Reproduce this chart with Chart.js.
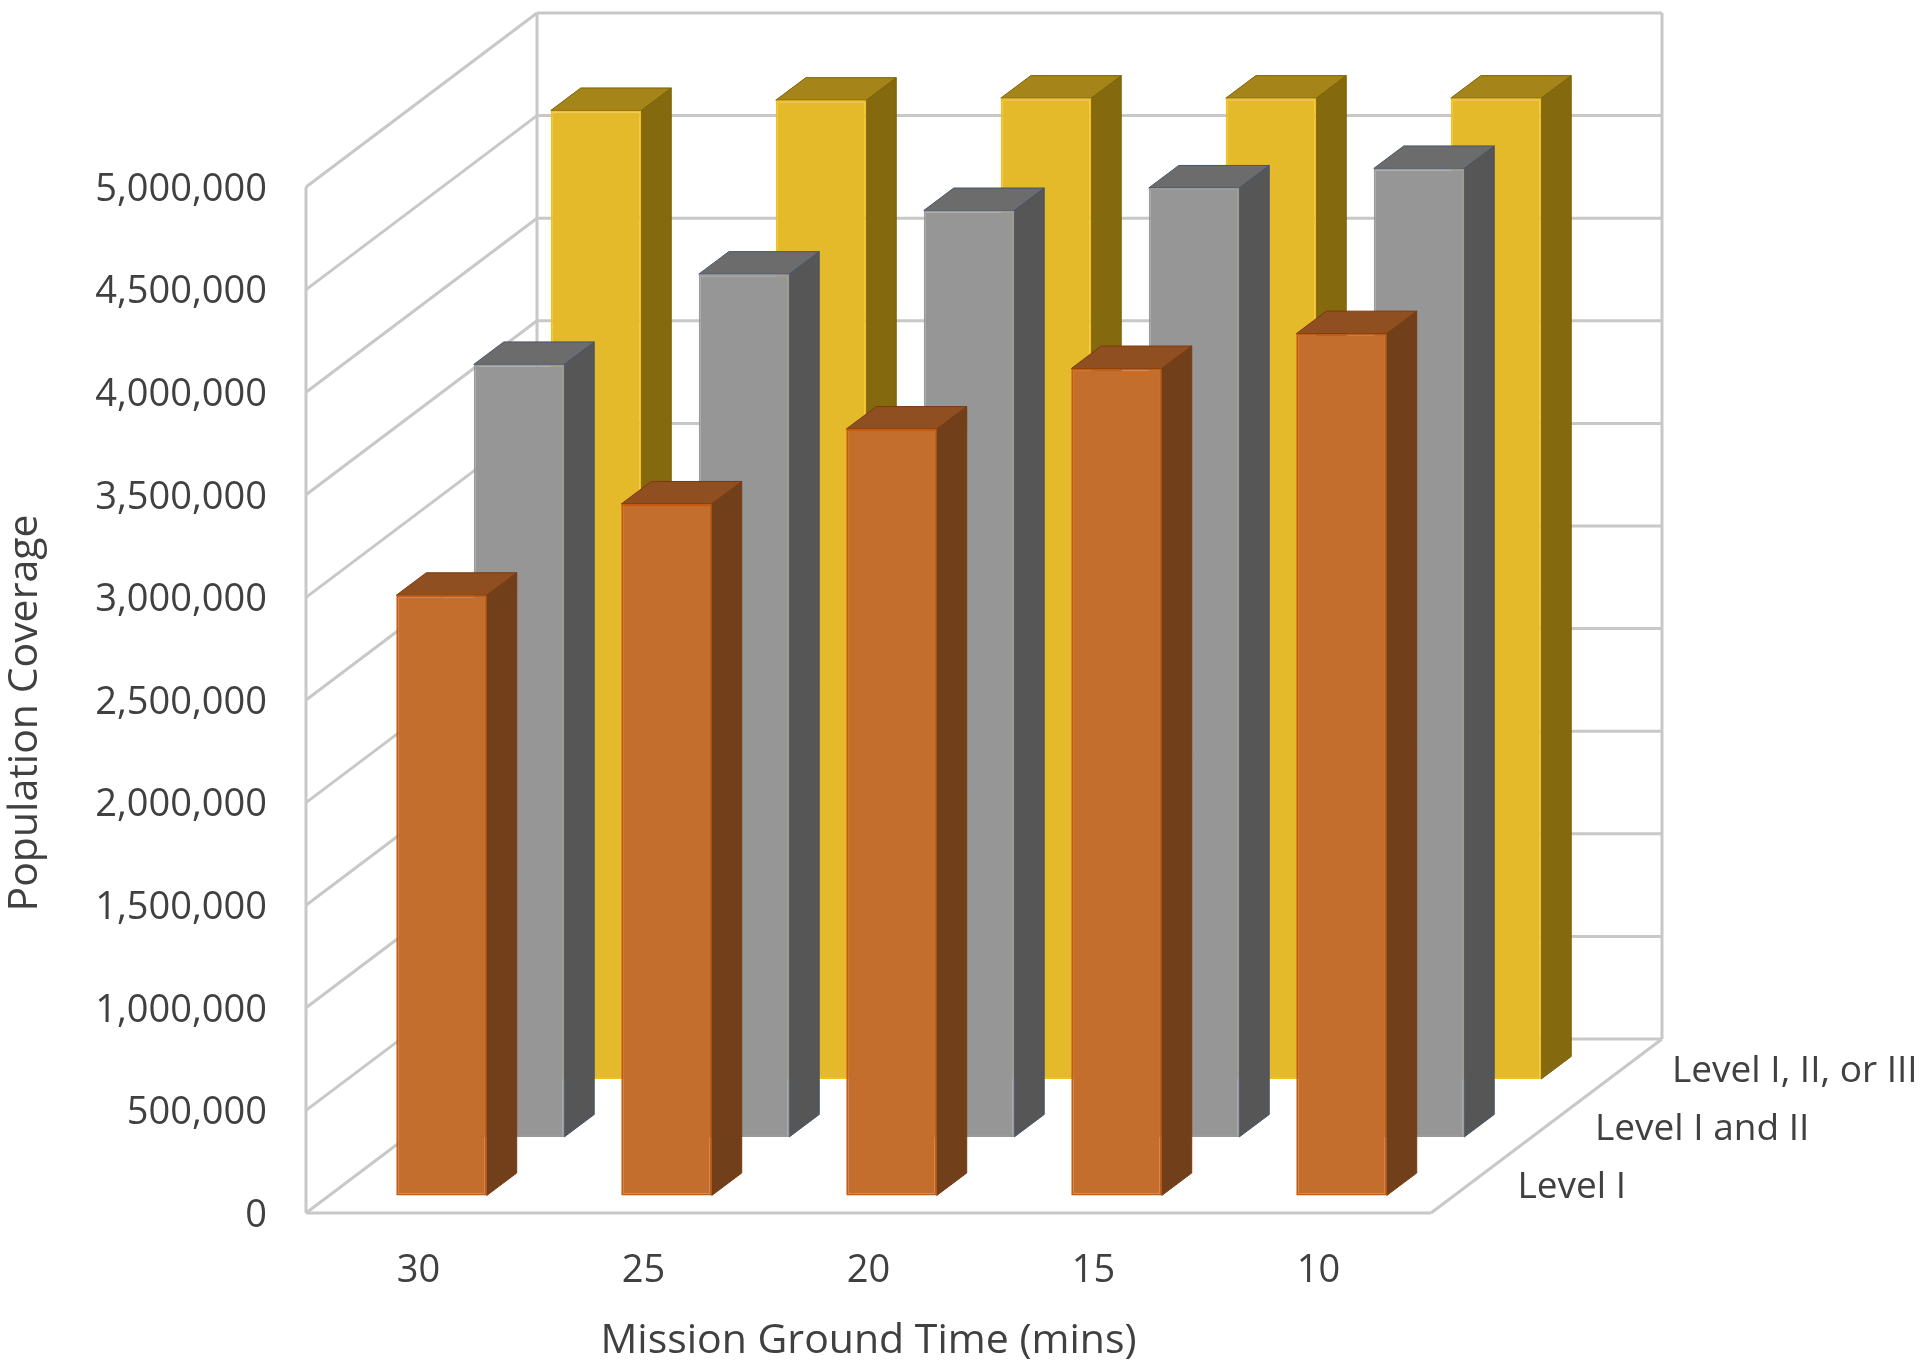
<!DOCTYPE html>
<html>
<head>
<meta charset="utf-8">
<title>Population Coverage</title>
<script src="https://cdn.jsdelivr.net/npm/chart.js@4"></script>
<style>
    html, body { margin: 0; padding: 0; background: #fff; }
    canvas { display: block; filter: blur(0.6px); }
</style>
</head>
<body>
<canvas id="coverageChart" width="1920" height="1366"></canvas>
<script>
// values
const categories = ['30', '25', '20', '15', '10'];
const levelOne = [2925000, 3370000, 3735000, 4030000, 4200000];
const levelTwo = [3765000, 4205000, 4515000, 4625000, 4720000];
const levelThree = [4720000, 4770000, 4780000, 4780000, 4780000];
const seriesNames = ['Level I', 'Level I and II', 'Level I, II, or III'];
const yStep = 500000;
const yMax = 5000000;
const yTitle = 'Population Coverage';
const xTitle = 'Mission Ground Time (mins)';

const textColor = '#404040';
const wallColor = '#c8c8c8';
const fontFamily = '"Open Sans", sans-serif';

// pseudo 3D: how far the back wall and each row of bars sit from the front of the box
const wallShift = { x: 231, y: -174 };
const rowShift = [
    { x: 23, y: -17.5 },
    { x: 100.5, y: -76 },
    { x: 177.5, y: -134 }
];
const barDepth = { x: 30, y: -22.5 };

const faceColors = ['#c46e2e', '#969696', '#e5ba2a'];
const edgeColors = ['#c55a11', '#9a9a9a', '#f2c01e'];
const sideColors = ['#71401b', '#565656', '#84690f'];
const topColors = ['#8f4f21', '#6c6c6c', '#a58519'];
const sideEdges = ['#7a3a0c', '#44546a', '#7a6000'];

function line(ctx, x1, y1, x2, y2) {
    ctx.beginPath();
    ctx.moveTo(x1, y1);
    ctx.lineTo(x2, y2);
    ctx.stroke();
}

function face(ctx, points, fill, stroke) {
    ctx.beginPath();
    points.forEach((p, i) => i ? ctx.lineTo(p[0], p[1]) : ctx.moveTo(p[0], p[1]));
    ctx.closePath();
    ctx.fillStyle = fill;
    ctx.fill();
    ctx.strokeStyle = stroke;
    ctx.lineWidth = 1;
    ctx.stroke();
}

const box3d = {
    id: 'box3d',
    // y tick labels sit a few px under their gridline in the original
    beforeDraw(chart) {
        chart.scales.y.getLabelItems().forEach(item => {
            item.options.translation[1] += 3;
        });
    },
    // walls and floor, gridlines come from the y scale ticks
    beforeDatasetsDraw(chart) {
        const { ctx, chartArea: area, scales } = chart;
        const { x: dx, y: dy } = wallShift;
        ctx.save();
        ctx.strokeStyle = wallColor;
        ctx.lineWidth = 3;
        scales.y.ticks.forEach(tick => {
            const y = scales.y.getPixelForValue(tick.value);
            line(ctx, area.left, y, area.left + dx, y + dy);
            line(ctx, area.left + dx, y + dy, area.right + dx, y + dy);
        });
        line(ctx, area.left, area.top, area.left, area.bottom);
        line(ctx, area.left + dx, area.top + dy, area.left + dx, area.bottom + dy);
        line(ctx, area.right + dx, area.top + dy, area.right + dx, area.bottom + dy);
        line(ctx, area.left, area.bottom, area.right, area.bottom);
        line(ctx, area.right, area.bottom, area.right + dx, area.bottom + dy);
        ctx.restore();
    },
    // shift the whole row back, then add side and top faces to each bar
    beforeDatasetDraw(chart, args) {
        const { ctx } = chart;
        const i = args.index;
        ctx.save();
        ctx.translate(rowShift[i].x, rowShift[i].y);
        args.meta.data.forEach(bar => {
            const left = bar.x - bar.width / 2;
            const right = bar.x + bar.width / 2;
            const { x: bx, y: by } = barDepth;
            face(ctx, [[right, bar.y], [right + bx, bar.y + by], [right + bx, bar.base + by], [right, bar.base]], sideColors[i], sideEdges[i]);
            face(ctx, [[left, bar.y], [left + bx, bar.y + by], [right + bx, bar.y + by], [right, bar.y]], topColors[i], sideEdges[i]);
        });
    },
    afterDatasetDraw(chart) {
        chart.ctx.restore();
    },
    afterDatasetsDraw(chart) {
        const { ctx, chartArea: area, scales } = chart;
        ctx.save();
        ctx.fillStyle = textColor;
        ctx.textBaseline = 'middle';

        // depth axis labels
        ctx.font = '37px ' + fontFamily;
        ctx.textAlign = 'left';
        const last = scales.x.getPixelForValue(categories.length - 1);
        seriesNames.forEach((name, i) => {
            ctx.fillText(name, last + rowShift[i].x + 176, area.bottom + rowShift[i].y - 8);
        });

        // y title sits a little below the middle of the front edge
        ctx.font = '41px ' + fontFamily;
        ctx.textAlign = 'center';
        ctx.translate(25, (area.top + area.bottom) / 2 + 13);
        ctx.rotate(-Math.PI / 2);
        ctx.fillText(yTitle, 0, 0);
        ctx.restore();
    }
};

Chart.defaults.font.family = fontFamily;
Chart.defaults.font.size = 38;
Chart.defaults.color = textColor;

new Chart(document.getElementById('coverageChart'), {
    type: 'bar',
    data: {
        labels: categories,
        datasets: [levelOne, levelTwo, levelThree].map((values, i) => ({
            label: seriesNames[i],
            data: values,
            backgroundColor: faceColors[i],
            borderColor: edgeColors[i],
            borderWidth: 2,
            borderSkipped: false,
            clip: false
        }))
    },
    options: {
        responsive: false,
        animation: false,
        events: [],
        layout: { padding: { left: 0, right: 489, top: 187, bottom: 0 } },
        plugins: { legend: { display: false }, tooltip: { enabled: false } },
        datasets: { bar: { grouped: false, barPercentage: 0.402, categoryPercentage: 1 } },
        scales: {
            x: {
                grid: { display: false, drawTicks: false },
                border: { display: false },
                ticks: { padding: 35, maxRotation: 0 },
                title: { display: true, text: xTitle, font: { size: 41 }, padding: { top: 0, bottom: 0 } },
                afterFit(scale) {
                    scale.height = 153;
                    scale.paddingLeft = 0;
                    scale.paddingRight = 0;
                }
            },
            y: {
                min: 0,
                max: yMax,
                grid: { display: false, drawTicks: false },
                border: { display: false },
                ticks: {
                    stepSize: yStep,
                    padding: 39,
                    callback: value => value.toLocaleString('en-US')
                },
                afterFit(scale) {
                    scale.width = 306;
                    scale.paddingTop = 0;
                    scale.paddingBottom = 0;
                }
            }
        }
    },
    plugins: [box3d]
});
</script>
</body>
</html>
